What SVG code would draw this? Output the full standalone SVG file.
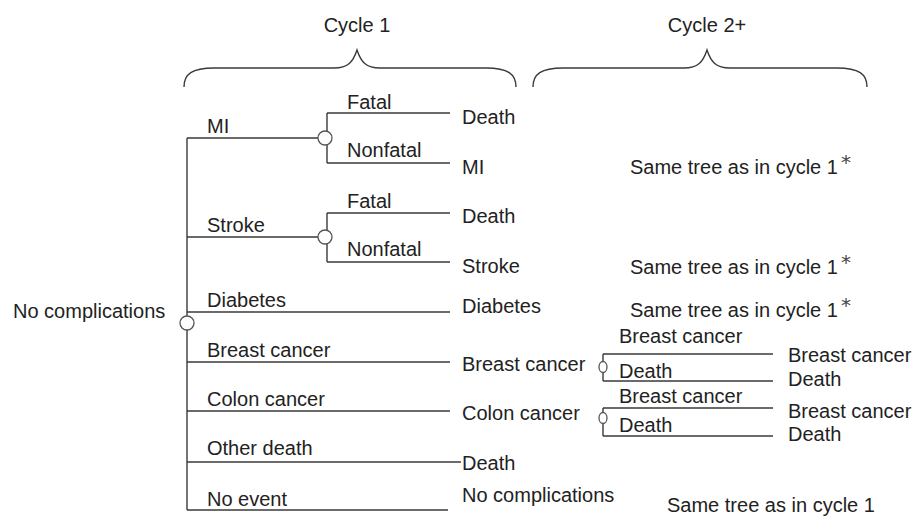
<svg xmlns="http://www.w3.org/2000/svg" width="914" height="524" viewBox="0 0 914 524">
<style>
text{font-family:"Liberation Sans",Arial,Helvetica,sans-serif;font-size:20px;fill:#222}
.ln{stroke:#3a3a3a;stroke-width:1.4;fill:none}
.ch{stroke:#555;stroke-width:1.3;fill:#fff}
.ast{font-family:"DejaVu Sans",sans-serif;font-size:20px;fill:#444}
</style>
<rect width="914" height="524" fill="#fff"/>
<g id="headers">
<text x="357" y="32" text-anchor="middle">Cycle 1</text>
<text x="707" y="32" text-anchor="middle">Cycle 2+</text>
<path class="ln" d="M184,87 C184,74 192,68 214,68 L334,68 C348,68 353,62 357,50 C361,62 366,68 380,68 L486,68 C508,68 516,74 516,87"/>
<path class="ln" d="M533,87 C533,74 541,68 563,68 L684,68 C698,68 703,62 707,50 C711,62 716,68 730,68 L837,68 C859,68 867,74 867,87"/>
</g>
<g id="connectors">
<path class="ln" d="M187,138 V510"/>
<path class="ln" d="M187,138 H318 M327,113 V163 M327,113 H450 M327,163 H450"/>
<path class="ln" d="M187,237 H318 M327,213 V262 M327,213 H450 M327,262 H450"/>
<path class="ln" d="M187,312 H450"/>
<path class="ln" d="M187,362 H450"/>
<path class="ln" d="M187,411 H450"/>
<path class="ln" d="M187,462 H461"/>
<path class="ln" d="M187,510 H448"/>
<path class="ln" d="M603,354 V381 M603,354 H773 M603,381 H773"/>
<path class="ln" d="M603,408 V436 M603,408 H773 M603,436 H773"/>
</g>
<g id="root">
<text x="13" y="318">No complications</text>
<circle class="ch" cx="187" cy="323" r="7"/>
</g>
<g id="mi">
<text x="207" y="133">MI</text>
<circle class="ch" cx="325" cy="138" r="7"/>
<text x="347" y="109">Fatal</text>
<text x="347" y="157">Nonfatal</text>
<text x="462" y="124">Death</text>
<text x="462" y="174">MI</text>
<text x="630" y="174">Same tree as in cycle 1<tspan class="ast" dx="3" dy="-5">*</tspan></text>
</g>
<g id="stroke">
<text x="207" y="232">Stroke</text>
<circle class="ch" cx="325" cy="237" r="7"/>
<text x="347" y="208">Fatal</text>
<text x="347" y="256">Nonfatal</text>
<text x="462" y="223">Death</text>
<text x="462" y="273">Stroke</text>
<text x="630" y="274">Same tree as in cycle 1<tspan class="ast" dx="3" dy="-5">*</tspan></text>
</g>
<g id="diabetes">
<text x="207" y="307">Diabetes</text>
<text x="462" y="313">Diabetes</text>
<text x="630" y="317">Same tree as in cycle 1<tspan class="ast" dx="3" dy="-5">*</tspan></text>
</g>
<g id="breast">
<text x="207" y="357">Breast cancer</text>
<text x="462" y="371">Breast cancer</text>
<ellipse class="ch" cx="603" cy="367" rx="4" ry="5.5"/>
<text x="619" y="343">Breast cancer</text>
<text x="619" y="378">Death</text>
<text x="788" y="362">Breast cancer</text>
<text x="788" y="386">Death</text>
</g>
<g id="colon">
<text x="207" y="406">Colon cancer</text>
<text x="462" y="420">Colon cancer</text>
<ellipse class="ch" cx="603" cy="418" rx="4" ry="5.5"/>
<text x="619" y="403">Breast cancer</text>
<text x="619" y="432">Death</text>
<text x="788" y="418">Breast cancer</text>
<text x="788" y="441">Death</text>
</g>
<g id="otherdeath">
<text x="207" y="455">Other death</text>
<text x="462" y="470">Death</text>
</g>
<g id="noevent">
<text x="207" y="506">No event</text>
<text x="462" y="502">No complications</text>
<text x="667" y="512">Same tree as in cycle 1</text>
</g>
</svg>
